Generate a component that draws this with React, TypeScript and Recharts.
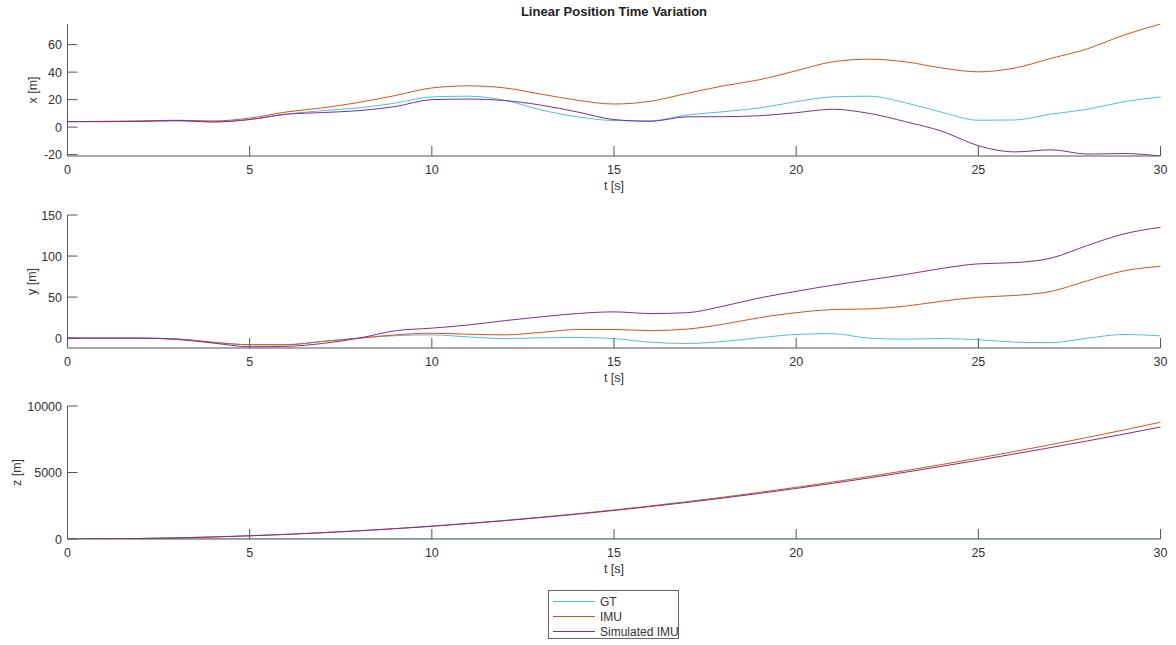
import { Label, Line, LineChart, XAxis, YAxis } from 'recharts';

const times = [
  0, 1, 2, 3, 4, 5, 6, 7, 8, 9, 10, 11, 12, 13, 14, 15,
  16, 17, 18, 19, 20, 21, 22, 23, 24, 25, 26, 27, 28, 29, 30,
];

// x position [m]
const xGT = [
  4, 4, 4.3, 4.5, 4, 5.5, 9.4, 12, 14, 17.5, 22, 22.5, 19.5, 12.5, 7.5, 4.8,
  4.6, 8.8, 11.2, 14, 18.5, 22, 22.5, 17.7, 10.8, 5, 5.2, 9.5, 13, 18.5, 22,
];
const xIMU = [
  4, 4.2, 4.5, 5, 4.5, 6.5, 11, 14, 18, 23, 28.5, 30, 28.5, 24, 19.5, 16.8,
  18.8, 24.5, 30, 34.5, 41, 47.5, 49.4, 47.5, 43, 40.2, 43, 50, 57, 67, 75,
];
const xSim = [
  4, 4, 4.2, 4.8, 3.7, 5.5, 9.4, 10.6, 12, 15, 20, 20.4, 19.3, 16, 11, 5.5,
  4.2, 7.5, 7.6, 8.3, 10.5, 13, 10, 4, -3, -13.5, -18, -16.5, -19.6, -19.2, -21,
];

// y position [m]
const yGT = [
  0, 0, 0, -1, -5, -8, -8, -4, 0, 3, 4, 1.5, -0.5, 0.5, 0.8, -0.5,
  -5, -6.5, -4, 0.5, 4.5, 5.5, 0, -1.2, -0.5, -2, -4.8, -5.5, 0, 4.5, 2.8,
];
const yIMU = [
  0, 0, 0, -1, -5, -8, -8, -4, 0, 4, 6, 4.8, 4, 7, 10.5, 10.5,
  9.2, 11, 17, 25, 31, 34.8, 35.6, 39, 45, 49.8, 52, 57, 70, 82, 87.5,
];
const ySim = [
  0, 0, 0, -1.5, -6, -10.5, -10, -6.5, 0, 9, 12.2, 16, 21.3, 26, 30, 32,
  30, 31, 39, 49, 57, 64.5, 71, 77.5, 85, 90.5, 92, 97.5, 113, 127, 135,
];

// z position [m]
const zGT = [
  0, 0, 0, 0, 0, 0, 0, 0, 0, 0, 0, 0, 0, 0, 0, 0,
  0, 0, 0, 0, 0, 0, 0, 0, 0, 0, 0, 0, 0, 0, 0,
];
const zIMU = [
  0, 10, 40, 85, 155, 240, 350, 475, 620, 785, 970, 1175, 1395, 1640, 1900, 2185,
  2485, 2805, 3145, 3505, 3885, 4280, 4700, 5140, 5600, 6080, 6580, 7100, 7640, 8200, 8780,
];
const zSim = [
  0, 10, 40, 85, 155, 240, 345, 470, 615, 775, 955, 1160, 1375, 1615, 1870, 2145,
  2440, 2750, 3080, 3430, 3800, 4185, 4590, 5020, 5470, 5920, 6400, 6880, 7380, 7890, 8420,
];

const xTicks = [0, 5, 10, 15, 20, 25, 30];

const series = [
  { key: 'gt', name: 'GT', color: '#4DBEEE' },
  { key: 'imu', name: 'IMU', color: '#D95319' },
  { key: 'sim', name: 'Simulated IMU', color: '#7E2F8E' },
];

const build = (gt: number[], imu: number[], sim: number[]) =>
  times.map((t, i) => ({ t, gt: gt[i], imu: imu[i], sim: sim[i] }));

const AXIS = '#555';
const TEXT = '#333';
const FONT = '"Liberation Sans", Arial, sans-serif';

const XTick = (props: any) => {
  const { x, y, payload } = props;
  return (
    <g>
      <line x1={x} x2={x} y1={y} y2={y - 10} stroke={AXIS} />
      <text x={x} y={y + 18} textAnchor="middle" fill={TEXT} fontSize={12.5} fontFamily={FONT}>
        {payload.value}
      </text>
    </g>
  );
};

const YTick = (props: any) => {
  const { x, y, payload } = props;
  return (
    <g>
      <line x1={x} x2={x + 10} y1={y} y2={y} stroke={AXIS} />
      <text x={x - 5.5} y={y + 4.5} textAnchor="end" fill={TEXT} fontSize={12.5} fontFamily={FONT}>
        {payload.value}
      </text>
    </g>
  );
};

type PanelProps = {
  top: number;
  height: number;
  marginTop: number;
  data: any[];
  domain: [number, number];
  ticks: number[];
  label: string;
  labelOffset: number;
};

function Panel({ top, height, marginTop, data, domain, ticks, label, labelOffset }: PanelProps) {
  return (
    <div style={{ position: 'absolute', left: 0, top }}>
      <LineChart
        width={1176}
        height={height}
        data={data}
        margin={{ top: marginTop, right: 15.5, left: 7.5, bottom: 0 }}
      >
        <XAxis
          dataKey="t"
          type="number"
          domain={[0, 30]}
          ticks={xTicks}
          height={40}
          tickSize={0}
          tickMargin={0}
          tickLine={false}
          axisLine={{ stroke: AXIS }}
          tick={<XTick />}
          interval={0}
        >
          <Label
            value="t [s]"
            position="insideBottom"
            offset={6}
            style={{ fill: TEXT, fontSize: 12.5, fontFamily: FONT }}
          />
        </XAxis>
        <YAxis
          type="number"
          domain={domain}
          ticks={ticks}
          allowDataOverflow
          width={60}
          tickSize={0}
          tickMargin={0}
          tickLine={false}
          axisLine={{ stroke: AXIS }}
          tick={<YTick />}
          interval={0}
        >
          <Label
            value={label}
            angle={-90}
            position="insideLeft"
            offset={labelOffset}
            style={{ fill: TEXT, fontSize: 12.5, fontFamily: FONT, textAnchor: 'middle' }}
          />
        </YAxis>
        {series.map((s) => (
          <Line
            key={s.key}
            type="monotone"
            dataKey={s.key}
            name={s.name}
            stroke={s.color}
            strokeWidth={1}
            dot={false}
            isAnimationActive={false}
          />
        ))}
      </LineChart>
    </div>
  );
}

export default function App() {
  return (
    <div
      style={{
        position: 'absolute',
        left: 0,
        top: 0,
        width: 1176,
        height: 645,
        background: '#fff',
        fontFamily: FONT,
      }}
    >
      <div
        style={{
          position: 'absolute',
          left: 0,
          width: 1228,
          top: 4,
          textAlign: 'center',
          fontWeight: 'bold',
          fontSize: 13,
          color: '#222',
        }}
      >
        Linear Position Time Variation
      </div>
      <Panel
        top={0}
        height={196}
        marginTop={24}
        data={build(xGT, xIMU, xSim)}
        domain={[-21, 75]}
        ticks={[-20, 0, 20, 40, 60]}
        label="x [m]"
        labelOffset={25.5}
      />
      <Panel
        top={195}
        height={193}
        marginTop={20}
        data={build(yGT, yIMU, ySim)}
        domain={[-12, 150]}
        ticks={[0, 50, 100, 150]}
        label="y [m]"
        labelOffset={24.5}
      />
      <Panel
        top={390}
        height={189}
        marginTop={16}
        data={build(zGT, zIMU, zSim)}
        domain={[0, 10000]}
        ticks={[0, 5000, 10000]}
        label="z [m]"
        labelOffset={9}
      />
      <div
        style={{
          position: 'absolute',
          left: 548,
          top: 590,
          width: 131,
          height: 49,
          border: '1px solid #666',
          background: '#fff',
          fontSize: 12,
          color: TEXT,
          padding: '3px 0 0 0',
          boxSizing: 'border-box',
          whiteSpace: 'nowrap',
        }}
      >
        {series.map((s) => (
          <div key={s.key} style={{ display: 'flex', alignItems: 'center', height: 15 }}>
            <span
              style={{
                display: 'inline-block',
                flexShrink: 0,
                width: 42,
                height: 0,
                borderTop: `1px solid ${s.color}`,
                marginLeft: 4,
                marginRight: 5,
              }}
            />
            <span style={{ flexShrink: 0 }}>{s.name}</span>
          </div>
        ))}
      </div>
    </div>
  );
}
